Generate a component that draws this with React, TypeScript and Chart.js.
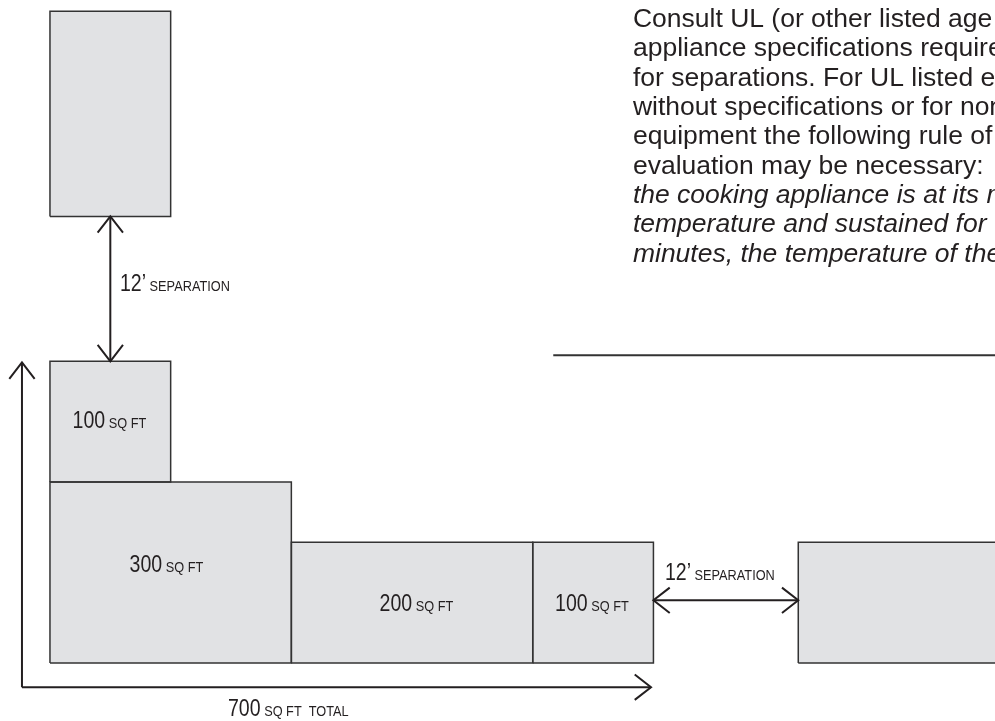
import React, { useEffect, useRef } from 'react';
import { Chart, registerables } from 'chart.js';

Chart.register(...registerables);

// ---- Diagram data (units: feet) ----
const X_MIN = -4.14;
const X_MAX = 78.3;
const Y_MIN = -4.8;
const Y_MAX = 54.93;

// Rectangles: top appliance, 100, 300, 200, 100, far-right appliance
const rectLeft = [0, 0, 0, 20, 40, 62];
const rectRight = [10, 10, 20, 40, 50, 84];
const rectBottom = [37, 15, 0, 0, 0, 0];
const rectTop = [54, 25, 15, 10, 10, 10];

// Arrows: vertical separation, horizontal separation, y-axis, x-axis
const arrowX0 = [5, 50, -2.32, -2.32];
const arrowY0 = [25, 5.2, -2, -2];
const arrowX1 = [5, 62, -2.32, 49.8];
const arrowY1 = [37, 5.2, 24.9, -2];
const arrowBothEnds = [true, true, false, false];

// Horizontal rule under the text block
const ruleX = [41.7, 84];
const ruleY = [25.5, 25.5];

// Area labels (center x, baseline y)
const areaNumbers = ['100', '300', '200', '100'];
const areaUnit = 'SQ FT';
const areaCenterX = [4.93, 9.65, 30.36, 44.9];
const areaBaseY = [19.47, 7.54, 4.31, 4.31];

// Separation labels (left x, baseline y)
const sepNumber = '12\u2019';
const sepWord = 'SEPARATION';
const sepLeftX = [5.8, 50.95];
const sepBaseY = [30.8, 6.88];

// Total label
const totalNumber = '700';
const totalWords = 'SQ FT  TOTAL';
const totalLeftX = 14.75;
const totalBaseY = -4.39;

// Paragraph text
const paraLines = [
  'Consult UL (or other listed age',
  'appliance specifications require',
  'for separations. For UL listed e',
  'without specifications or for non',
  'equipment the following rule of',
  'evaluation may be necessary:',
  'the cooking appliance is at its m',
  'temperature and sustained for',
  'minutes, the temperature of the',
];
const paraItalic = [false, false, false, false, false, false, true, true, true];
const paraLeftX = 48.3;
const paraFirstBaseY = 52.7;
const paraStepY = 2.43;

// ---- Styles ----
const FILL = '#e1e2e4';
const EDGE = '#333333';
const INK = '#231f20';
const HEAD_LEN = 1.35;
const HEAD_HALF = 1.05;
const NARROW = 0.85;
const FONT_FAMILY = '"Liberation Sans", Arial, Helvetica, sans-serif';
const PARA_SIZE = 26.5;

type P = { x: number; y: number };

function head(tip: P, from: P): P[] {
  const dx = tip.x - from.x;
  const dy = tip.y - from.y;
  const len = Math.hypot(dx, dy) || 1;
  const ux = dx / len;
  const uy = dy / len;
  const bx = tip.x - ux * HEAD_LEN;
  const by = tip.y - uy * HEAD_LEN;
  const nx = -uy;
  const ny = ux;
  return [
    { x: bx + nx * HEAD_HALF, y: by + ny * HEAD_HALF },
    { x: tip.x, y: tip.y },
    { x: bx - nx * HEAD_HALF, y: by - ny * HEAD_HALF },
  ];
}

function lineDs(data: P[], color: string, width: number) {
  return {
    data,
    showLine: true,
    fill: false,
    borderColor: color,
    borderWidth: width,
    pointRadius: 0,
    tension: 0,
    borderJoinStyle: 'miter' as const,
  };
}

function buildDatasets() {
  const strokes: any[] = [];
  const fills: any[] = [];
  // arrows
  arrowX0.forEach((_, i) => {
    const a = { x: arrowX0[i], y: arrowY0[i] };
    const b = { x: arrowX1[i], y: arrowY1[i] };
    strokes.push(lineDs([a, b], INK, 2));
    strokes.push(lineDs(head(b, a), INK, 2));
    if (arrowBothEnds[i]) strokes.push(lineDs(head(a, b), INK, 2));
  });
  // rule
  strokes.push(lineDs(ruleX.map((x, i) => ({ x, y: ruleY[i] })), EDGE, 2));
  // rectangles
  rectLeft.forEach((_, i) => {
    const x0 = rectLeft[i], x1 = rectRight[i], y0 = rectBottom[i], y1 = rectTop[i];
    strokes.push(
      lineDs(
        [
          { x: x0, y: y0 },
          { x: x1, y: y0 },
          { x: x1, y: y1 },
          { x: x0, y: y1 },
          { x: x0, y: y0 },
        ],
        EDGE,
        1.5
      )
    );
    fills.push({
      data: [
        { x: x0, y: y1 },
        { x: x1, y: y1 },
      ],
      showLine: true,
      fill: { value: y0 },
      backgroundColor: FILL,
      borderColor: FILL,
      borderWidth: 0,
      pointRadius: 0,
    });
  });
  return [...strokes, ...fills];
}

function drawNarrow(ctx: CanvasRenderingContext2D, text: string, x: number, y: number, font: string) {
  ctx.font = font;
  const w = ctx.measureText(text).width * NARROW;
  ctx.save();
  ctx.translate(x, y);
  ctx.scale(NARROW, 1);
  ctx.fillText(text, 0, 0);
  ctx.restore();
  return w;
}

function narrowWidth(ctx: CanvasRenderingContext2D, text: string, font: string) {
  ctx.font = font;
  return ctx.measureText(text).width * NARROW;
}

const BIG = `23px ${FONT_FAMILY}`;
const SMALL = `15px ${FONT_FAMILY}`;

const textPlugin = {
  id: 'diagramText',
  afterDatasetsDraw(chart: any) {
    const { ctx } = chart;
    const xs = chart.scales.x;
    const ys = chart.scales.y;
    ctx.save();
    ctx.fillStyle = INK;
    ctx.textBaseline = 'alphabetic';
    ctx.textAlign = 'left';

    // area labels
    areaNumbers.forEach((num, i) => {
      const w1 = narrowWidth(ctx, num, BIG);
      const gap = narrowWidth(ctx, ' ', SMALL);
      const w2 = narrowWidth(ctx, areaUnit, SMALL);
      const cx = xs.getPixelForValue(areaCenterX[i]);
      const by = ys.getPixelForValue(areaBaseY[i]);
      let x = cx - (w1 + gap + w2) / 2;
      x += drawNarrow(ctx, num, x, by, BIG) + gap;
      drawNarrow(ctx, areaUnit, x, by, SMALL);
    });

    // separation labels
    sepLeftX.forEach((lx, i) => {
      let x = xs.getPixelForValue(lx);
      const by = ys.getPixelForValue(sepBaseY[i]);
      const gap = narrowWidth(ctx, ' ', SMALL);
      x += drawNarrow(ctx, sepNumber, x, by, BIG) + gap;
      drawNarrow(ctx, sepWord, x, by, SMALL);
    });

    // total label
    {
      let x = xs.getPixelForValue(totalLeftX);
      const by = ys.getPixelForValue(totalBaseY);
      const gap = narrowWidth(ctx, ' ', SMALL);
      x += drawNarrow(ctx, totalNumber, x, by, BIG) + gap;
      drawNarrow(ctx, totalWords, x, by, SMALL);
    }

    // paragraph
    const px = xs.getPixelForValue(paraLeftX);
    paraLines.forEach((line, i) => {
      ctx.font = `${paraItalic[i] ? 'italic ' : ''}${PARA_SIZE}px ${FONT_FAMILY}`;
      ctx.fillText(line, px, ys.getPixelForValue(paraFirstBaseY - i * paraStepY));
    });
    ctx.restore();
  },
};

export default function App() {
  const ref = useRef<HTMLCanvasElement>(null);
  useEffect(() => {
    if (!ref.current) return;
    const chart = new Chart(ref.current, {
      type: 'scatter',
      data: { datasets: buildDatasets() },
      options: {
        animation: false,
        responsive: false,
        events: [],
        layout: { padding: 0 },
        plugins: {
          legend: { display: false },
          tooltip: { enabled: false },
        },
        scales: {
          x: { type: 'linear', min: X_MIN, max: X_MAX, display: false },
          y: { type: 'linear', min: Y_MIN, max: Y_MAX, display: false },
        },
      },
      plugins: [textPlugin],
    } as any);
    return () => chart.destroy();
  }, []);
  return (
    <div style={{ position: 'absolute', left: 0, top: 0, width: 995, height: 721, background: '#fff' }}>
      <canvas ref={ref} width={995} height={721} style={{ display: 'block' }} />
    </div>
  );
}
